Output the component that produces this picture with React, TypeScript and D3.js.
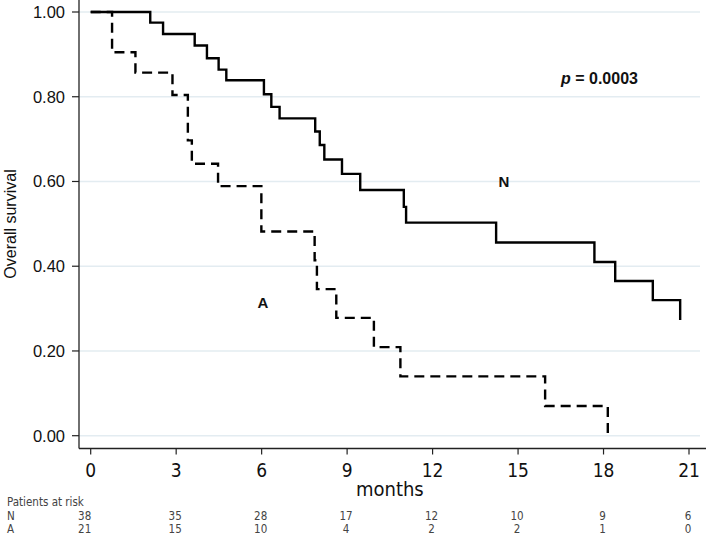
import React from "react";
import * as d3 from "d3";

const nTimes = [0, 2.09, 2.54, 3.65, 4.08, 4.49, 4.76, 6.08, 6.34, 6.63, 7.88, 8.04, 8.2, 8.82, 9.46, 10.99, 11.07, 14.23, 17.68, 18.41, 19.73, 20.69];
const nSurv = [1, 0.975, 0.948, 0.921, 0.891, 0.864, 0.839, 0.806, 0.776, 0.749, 0.718, 0.686, 0.652, 0.618, 0.58, 0.54, 0.503, 0.456, 0.41, 0.365, 0.32, 0.273];
const aTimes = [0, 0.75, 1.57, 2.87, 3.41, 3.55, 4.47, 5.99, 7.86, 7.94, 8.62, 9.94, 10.87, 15.95, 18.15];
const aSurv = [1, 0.905, 0.857, 0.804, 0.697, 0.642, 0.589, 0.482, 0.414, 0.346, 0.278, 0.209, 0.14, 0.07, 0];
const xTicks = [0, 3, 6, 9, 12, 15, 18, 21];
const yTicks = [0, 0.2, 0.4, 0.6, 0.8, 1.0];
const riskN = [38, 35, 28, 17, 12, 10, 9, 6];
const riskA = [21, 15, 10, 4, 2, 2, 1, 0];

export default function App() {
  const W = 706, H = 536;
  const x = d3.scaleLinear().domain([0, 21]).range([90.7, 689]);
  const y = d3.scaleLinear().domain([0, 1]).range([435.7, 12]);
  const line = d3.line<[number, number]>().x(d => x(d[0])).y(d => y(d[1])).curve(d3.curveStepAfter);
  const nPts = nTimes.map((t, i) => [t, nSurv[i]] as [number, number]);
  const aPts = aTimes.map((t, i) => [t, aSurv[i]] as [number, number]);
  const axisX = 79, axisY = 448.5, right = 700;
  const font = "'Liberation Sans', Arial, sans-serif";
  const narrow = "'Liberation Sans Narrow', 'DejaVu Sans Condensed', 'Liberation Sans', sans-serif";
  return (
    <svg width={W} height={H} style={{ position: "absolute", left: 0, top: 0, background: "#fff" }}>
      <rect x={0} y={0} width={W} height={H} fill="#fff" />
      {yTicks.map(v => (
        <g key={v}>
          <line x1={axisX} x2={right} y1={y(v)} y2={y(v)} stroke="#e3ecf1" strokeWidth={1.5} />
          <line x1={axisX - 7} x2={axisX} y1={y(v)} y2={y(v)} stroke="#222" strokeWidth={1.2} />
          <text x={65} y={y(v)} dy="0.36em" textAnchor="end" fontFamily={font} fontSize={16.5} fill="#111">{v.toFixed(2)}</text>
        </g>
      ))}
      <line x1={axisX} x2={axisX} y1={0} y2={axisY} stroke="#222" strokeWidth={1.3} />
      <line x1={axisX} x2={right + 6} y1={axisY} y2={axisY} stroke="#222" strokeWidth={1.3} />
      {xTicks.map(v => (
        <g key={v}>
          <line x1={x(v)} x2={x(v)} y1={axisY} y2={axisY + 6} stroke="#222" strokeWidth={1.2} />
          <text x={x(v)} y={477} textAnchor="middle" fontFamily={narrow} fontSize={19} fill="#111">{v}</text>
        </g>
      ))}
      <text x={(x(0) + x(21)) / 2} y={496} textAnchor="middle" fontFamily={narrow} fontSize={20} fill="#111">months</text>
      <text transform="translate(16,224) rotate(-90)" textAnchor="middle" fontFamily={font} fontSize={16} fill="#111">Overall survival</text>
      <path d={line(nPts) || ""} fill="none" stroke="#000" strokeWidth={2.4} />
      <path d={line(aPts) || ""} fill="none" stroke="#000" strokeWidth={2.4} strokeDasharray="10,6" />
      <text x={504} y={182} dy="0.36em" textAnchor="middle" fontFamily={font} fontSize={15} fontWeight="bold" fill="#111">N</text>
      <text x={263} y={303} dy="0.36em" textAnchor="middle" fontFamily={font} fontSize={15} fontWeight="bold" fill="#111">A</text>
      <text x={561} y={78} dy="0.36em" fontFamily={font} fontSize={16} fontWeight="bold" fill="#111">
        <tspan fontStyle="italic">p</tspan> = 0.0003
      </text>
      <text x={7} y={506} fontFamily={narrow} fontSize={11.5} fill="#444">Patients at risk</text>
      <text x={7} y={519.5} fontFamily={narrow} fontSize={11.5} fill="#444">N</text>
      <text x={7} y={532.5} fontFamily={narrow} fontSize={11.5} fill="#444">A</text>
      {riskN.map((v, i) => (
        <text key={"n" + i} x={x(xTicks[i]) - (i === 0 ? 6 : 1)} y={519.5} textAnchor="middle" fontFamily={narrow} fontSize={11.5} fill="#444">{v}</text>
      ))}
      {riskA.map((v, i) => (
        <text key={"a" + i} x={x(xTicks[i]) - (i === 0 ? 6 : 1)} y={532.5} textAnchor="middle" fontFamily={narrow} fontSize={11.5} fill="#444">{v}</text>
      ))}
    </svg>
  );
}
